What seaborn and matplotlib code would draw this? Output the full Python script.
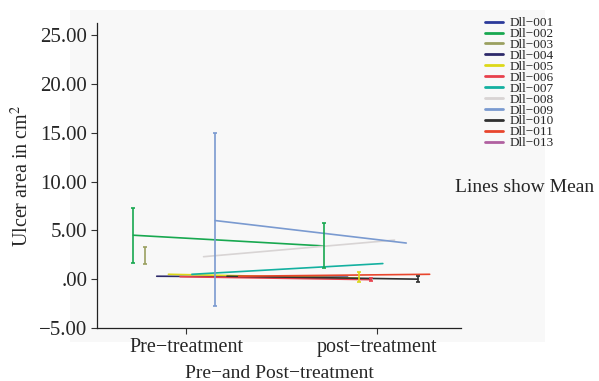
import numpy as np
import pandas as pd
import matplotlib
matplotlib.use('Agg')
import matplotlib.pyplot as plt
import seaborn as sns
from matplotlib.lines import Line2D
from matplotlib.patches import Rectangle

# Datos (medias y barras de error por sujeto)
series = ['Dll−001', 'Dll−002', 'Dll−003', 'Dll−004', 'Dll−005', 'Dll−006',
          'Dll−007', 'Dll−008', 'Dll−009', 'Dll−010', 'Dll−011', 'Dll−013']
fases = ['Pre−treatment', 'post−treatment']
media_pre = [np.nan, 4.5, np.nan, 0.3, 0.5, 0.25, 0.5, 2.3, 6.0, 0.3, 0.3, np.nan]
media_post = [np.nan, 3.4, np.nan, 0.2, 0.1, -0.05, 1.6, 4.0, 3.7, 0.0, 0.5, np.nan]
err_pre_bajo = [np.nan, 1.7, 1.6, np.nan, np.nan, np.nan, np.nan, np.nan, -2.7, np.nan, np.nan, np.nan]
err_pre_alto = [np.nan, 7.3, 3.3, np.nan, np.nan, np.nan, np.nan, np.nan, 15.0, np.nan, np.nan, np.nan]
err_post_bajo = [np.nan, 1.1, np.nan, np.nan, -0.3, -0.2, np.nan, np.nan, np.nan, -0.3, np.nan, np.nan]
err_post_alto = [np.nan, 5.8, np.nan, np.nan, 0.7, 0.1, np.nan, np.nan, np.nan, 0.3, np.nan, np.nan]

yticks = [-5, 0, 5, 10, 15, 20, 25]
ytick_labels = ['−5.00', '.00', '5.00', '10.00', '15.00', '20.00', '25.00']

colores = ['#2b3a9a', '#18a850', '#9aa060', '#2d2a6a', '#dcd818', '#e8404c',
           '#14b0a0', '#d8d4d4', '#7a9ad0', '#303030', '#e8452c', '#b060a0']
paleta = dict(zip(series, colores))

sns.set_theme(style='white')
plt.rcParams['font.family'] = ['Liberation Serif', 'DejaVu Serif']
plt.rcParams['mathtext.fontset'] = 'stix'

# Desplazamiento (dodge) de cada sujeto dentro de la categoría
paso = 0.0613
desplaz = [(i - (len(series) - 1) / 2) * paso for i in range(len(series))]

filas = []
for i, s in enumerate(series):
    for j, (m, lo, hi) in enumerate([(media_pre[i], err_pre_bajo[i], err_pre_alto[i]),
                                     (media_post[i], err_post_bajo[i], err_post_alto[i])]):
        filas.append({'serie': s, 'x': j + desplaz[i], 'media': m, 'lo': lo, 'hi': hi})
df = pd.DataFrame(filas)

fig = plt.figure(figsize=(5.99, 3.81), dpi=100)
fig.patches.append(Rectangle((70 / 599, 1 - 342 / 381), 475 / 599, 332 / 381,
                             transform=fig.transFigure, facecolor='#f8f8f8',
                             edgecolor='none', zorder=-5))
ax = fig.add_axes([97 / 599, 1 - 328 / 381, 364 / 599, 305 / 381])
ax.set_facecolor('none')
ax.set_zorder(2)

lineas = df.dropna(subset=['media'])
sns.lineplot(data=lineas, x='x', y='media', hue='serie', palette=paleta,
             estimator=None, linewidth=1.2, legend=False, ax=ax)

barras = df.dropna(subset=['lo'])
for _, r in barras.iterrows():
    ax.errorbar(r['x'], (r['lo'] + r['hi']) / 2, yerr=(r['hi'] - r['lo']) / 2,
                fmt='none', ecolor=paleta[r['serie']], elinewidth=1.2,
                capsize=1.5, capthick=1.2)

ax.set_xlim(-0.466, 1.44)
ax.set_ylim(-5, 26.23)
ax.set_xticks([0, 1])
ax.set_xticklabels(fases, fontsize=14.5)
ax.set_yticks(yticks)
ax.set_yticklabels(ytick_labels, fontsize=15)
ax.tick_params(axis='both', which='both', direction='out', length=4, width=0.8,
               color='#333333', pad=3, left=True, bottom=True)
for lado in ['top', 'right']:
    ax.spines[lado].set_visible(False)
for lado in ['left', 'bottom']:
    ax.spines[lado].set_color('#222222')
    ax.spines[lado].set_linewidth(0.9)

ax.set_xlabel('Pre−and Post−treatment', fontsize=14, labelpad=6)
ax.set_ylabel('Ulcer area in cm$^2$', fontsize=14.5, labelpad=4)

handles = [Line2D([], [], color=paleta[s], linewidth=2) for s in series]
fig.legend(handles, series, loc='upper left', bbox_to_anchor=(485 / 599, 1 - 17 / 381),
           frameon=False, fontsize=9.5, handlelength=1.4, handletextpad=0.5,
           labelspacing=-0.1, borderpad=0, borderaxespad=0)
fig.text(455 / 599, 1 - 188 / 381, 'Lines show Mean', fontsize=14, ha='left', va='center')

plt.savefig('out.png', dpi=100)
